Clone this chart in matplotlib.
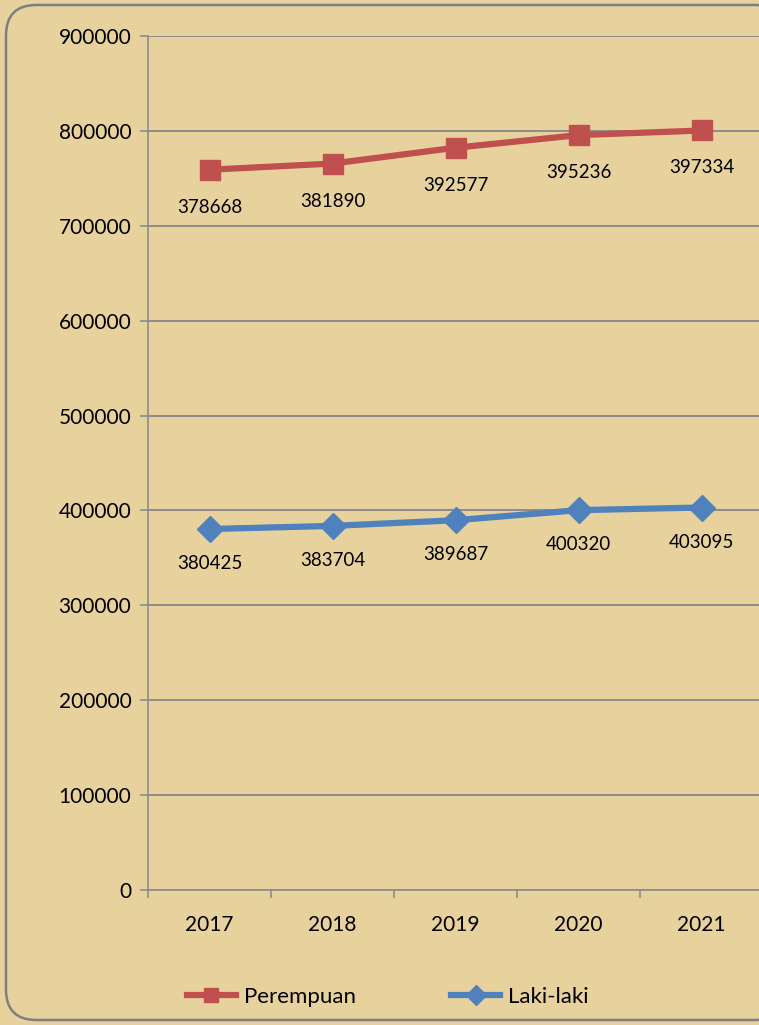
import matplotlib
matplotlib.use("Agg")
import matplotlib.pyplot as plt
from matplotlib.patches import FancyBboxPatch
import numpy as np

years = ["2017", "2018", "2019", "2020", "2021"]
perempuan = [378668, 381890, 392577, 395236, 397334]
laki_laki = [380425, 383704, 389687, 400320, 403095]
y_ticks = [0, 100000, 200000, 300000, 400000, 500000, 600000, 700000, 800000, 900000]

RED = "#C0504D"
BLUE = "#4F81BD"
BG = "#E7D29E"
GRID = "#8C8C8C"

plt.rcParams['font.family'] = ['Lato', 'DejaVu Sans']

W, H = 759, 1025
fig = plt.figure(figsize=(W / 100, H / 100), dpi=100)
fig.patch.set_facecolor(BG)

frame = FancyBboxPatch((6 / W, 5 / H), (W + 20) / W, (H - 10) / H,
                       boxstyle="round,pad=0,rounding_size=0.04",
                       transform=fig.transFigure, facecolor=BG,
                       edgecolor="#7F7F7F", linewidth=1.8, mutation_aspect=W / H,
                       zorder=-10)
fig.patches.append(frame)

left, right, top, bottom = 148, 763, 36, 890
ax = fig.add_axes([left / W, 1 - bottom / H, (right - left) / W, (bottom - top) / H])
ax.set_facecolor("none")
ax.set_zorder(2)

x = np.arange(len(years))
stacked = [l + p for l, p in zip(laki_laki, perempuan)]

ax.plot(x, stacked, color=RED, lw=4.5, marker="s", ms=14,
        label="Perempuan", zorder=4)
ax.plot(x, laki_laki, color=BLUE, lw=4.5, marker="D", ms=13,
        label="Laki-laki", zorder=4)

for xi, s, p in zip(x, stacked, perempuan):
    ax.annotate(str(p), (xi, s), xytext=(0, -27), textcoords="offset points",
                ha="center", va="center", fontsize=13.5, color="black")
for xi, l in zip(x, laki_laki):
    ax.annotate(str(l), (xi, l), xytext=(0, -25), textcoords="offset points",
                ha="center", va="center", fontsize=13.5, color="black")

ax.set_xlim(-0.5, len(years) - 0.5)
ax.set_ylim(0, 900000)
ax.set_yticks(y_ticks)
ax.set_yticklabels([str(v) for v in y_ticks], fontsize=15)
ax.set_xticks(x)
ax.set_xticklabels(years, fontsize=15)
ax.set_xticks(np.arange(-0.5, len(years), 1.0), minor=True)
ax.tick_params(axis="x", which="major", length=0, pad=18)
ax.tick_params(axis="x", which="minor", length=6, color=GRID, width=1.2)
ax.tick_params(axis="y", length=6, color=GRID, width=1.2, pad=6)

ax.yaxis.grid(True, color=GRID, lw=1.4)
ax.set_axisbelow(True)
for s in ["top", "right"]:
    ax.spines[s].set_visible(False)
for s in ["left", "bottom"]:
    ax.spines[s].set_color(GRID)
    ax.spines[s].set_linewidth(1.2)

leg = fig.legend(loc="center left", bbox_to_anchor=(187 / W, 1 - 997 / H), ncol=2,
                 frameon=False, fontsize=16, handlelength=2.2, handletextpad=0.35,
                 columnspacing=4.3, markerscale=0.75, borderaxespad=0, borderpad=0)

fig.savefig("out.png", dpi=100, facecolor=BG)
